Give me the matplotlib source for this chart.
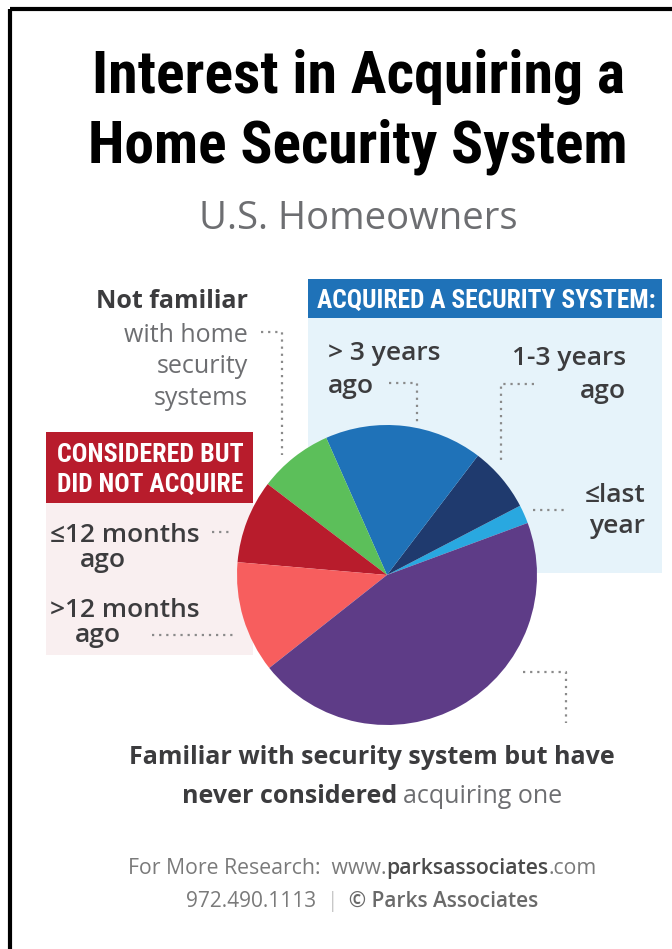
import matplotlib
matplotlib.use('Agg')
import matplotlib.pyplot as plt
from matplotlib.patches import Rectangle

# slice data, counter-clockwise starting from the small light-blue wedge
labels = ['<= last year', '1-3 years ago', '> 3 years ago', 'Not familiar',
          '<=12 months ago', '>12 months ago', 'Familiar, never considered']
shares = [2, 7, 17, 8, 9, 12, 45]
colors = ['#29a8e0', '#1f3a6e', '#1f72b8', '#5cbf5a', '#b81c2c', '#f75e5e', '#5e3c87']

W, H = 672, 949
COND = ['Liberation Sans Narrow', 'Roboto Condensed', 'DejaVu Sans']
BODY = ['Open Sans', 'DejaVu Sans']
DARK = '#3c3c3e'
GREY = '#6d6e71'
DOT = '#8a8a8a'

fig = plt.figure(figsize=(W / 100, H / 100), dpi=100)
bg = fig.add_axes([0, 0, 1, 1])
bg.set_xlim(0, W)
bg.set_ylim(H, 0)
bg.axis('off')
renderer = fig.canvas.get_renderer()


def fitted(x, y, s, width, size, color, ha='center'):
    # condensed heading text squeezed to the reference width
    t = bg.text(x, y, s, family=COND, weight='bold', stretch='condensed',
                fontsize=size, ha=ha, va='baseline', color=color)
    w = t.get_window_extent(renderer).width
    if w > width:
        t.set_fontsize(size * width / w)
    return t


# frame (only top and left show in the crop)
bg.add_patch(Rectangle((9.5, 8.5), W + 20, H + 20, fill=False, lw=3, ec='black'))

# title block
fitted(358, 93, 'Interest in Acquiring a', 540, 43, 'black')
fitted(358, 162, 'Home Security System', 540, 43, 'black')
bg.text(358, 229, 'U.S. Homeowners', family=BODY, fontsize=27.5,
        ha='center', va='baseline', color=GREY)

# acquired box
bg.add_patch(Rectangle((308, 318), 354, 255, color='#e6f3fa', lw=0))
bg.add_patch(Rectangle((308, 279), 354, 39, color='#1f72b8', lw=0))
fitted(486, 308, 'ACQUIRED A SECURITY SYSTEM:', 338, 19, 'white')

# considered box
bg.add_patch(Rectangle((46, 503), 207, 152, color='#f9eff0', lw=0))
bg.add_patch(Rectangle((46, 432), 207, 71, color='#b81c2c', lw=0))
fitted(150, 462, 'CONSIDERED BUT', 186, 19, 'white')
fitted(150, 492, 'DID NOT ACQUIRE', 186, 19, 'white')


def lab(x, y, s, ha='left', weight='semibold', color=DARK, size=19):
    bg.text(x, y, s, family=BODY, weight=weight, fontsize=size, ha=ha,
            va='baseline', color=color)


def dots(xs, ys):
    bg.plot(xs, ys, color=DOT, lw=1.6, ls=(0, (1, 2.2)), solid_capstyle='round')


# not familiar
lab(248, 308, 'Not familiar', ha='right', weight='bold', size=18)
lab(248, 342, 'with home', ha='right', weight='normal', color=GREY, size=18)
lab(248, 373, 'security', ha='right', weight='normal', color=GREY, size=18)
lab(248, 405, 'systems', ha='right', weight='normal', color=GREY, size=18)
dots([261, 282, 282], [332, 332, 455])

# considered labels
lab(50, 542, '\u226412 months')
lab(80, 567, 'ago')
dots([212, 233], [532, 532])
lab(50, 617, '>12 months')
lab(75, 642, 'ago')
dots([152, 236], [635, 635])

# acquired labels
lab(328, 360, '> 3 years')
lab(328, 393, 'ago')
dots([389, 417, 417], [383, 383, 422])
lab(626, 365, '1-3 years', ha='right')
lab(626, 398, 'ago', ha='right')
dots([534, 501, 501], [384, 384, 460])
lab(645, 502, '\u2264last', ha='right')
lab(645, 533, 'year', ha='right')
dots([533, 564], [510, 510])

# purple leader
dots([523, 566, 566], [672, 672, 723])


def pieces(xc, y, parts, size):
    # lay out mixed-weight runs centred on xc
    objs = []
    for s, w, c in parts:
        t = bg.text(0, y, s, family=BODY, weight=w, fontsize=size,
                    va='baseline', ha='left', color=c)
        objs.append(t)
    widths = [t.get_window_extent(renderer).width for t in objs]
    x = xc - sum(widths) / 2
    for t, wd in zip(objs, widths):
        t.set_x(x)
        x += wd


pieces(372, 764, [('Familiar with security system but have', 'bold', DARK)], 18)
pieces(372, 803, [('never considered ', 'bold', DARK),
                  ('acquiring one', 'normal', GREY)], 18)
pieces(362, 874, [('For More Research:  www.', 'normal', '#7a7a7a'),
                  ('parksassociates', 'semibold', '#4a4a4a'),
                  ('.com', 'normal', '#7a7a7a')], 15.3)
pieces(362, 907, [('972.490.1113  ', 'normal', '#7a7a7a'),
                  ('|', 'normal', '#c8c8c8'),
                  ('  \u00a9 Parks Associates', 'semibold', '#6a6a6a')], 15)

# pie: centre (387, 575) px, radius 150 px
cx, cy, rad = 387, 575, 150
pax = fig.add_axes([(cx - rad) / W, (H - cy - rad) / H, 2 * rad / W, 2 * rad / H])
pax.pie(shares, colors=colors, startangle=20.3, counterclock=True, radius=1,
        wedgeprops=dict(lw=0))
pax.set_xlim(-1, 1)
pax.set_ylim(-1, 1)
pax.axis('off')

fig.savefig('out.png', dpi=100, facecolor='white')
